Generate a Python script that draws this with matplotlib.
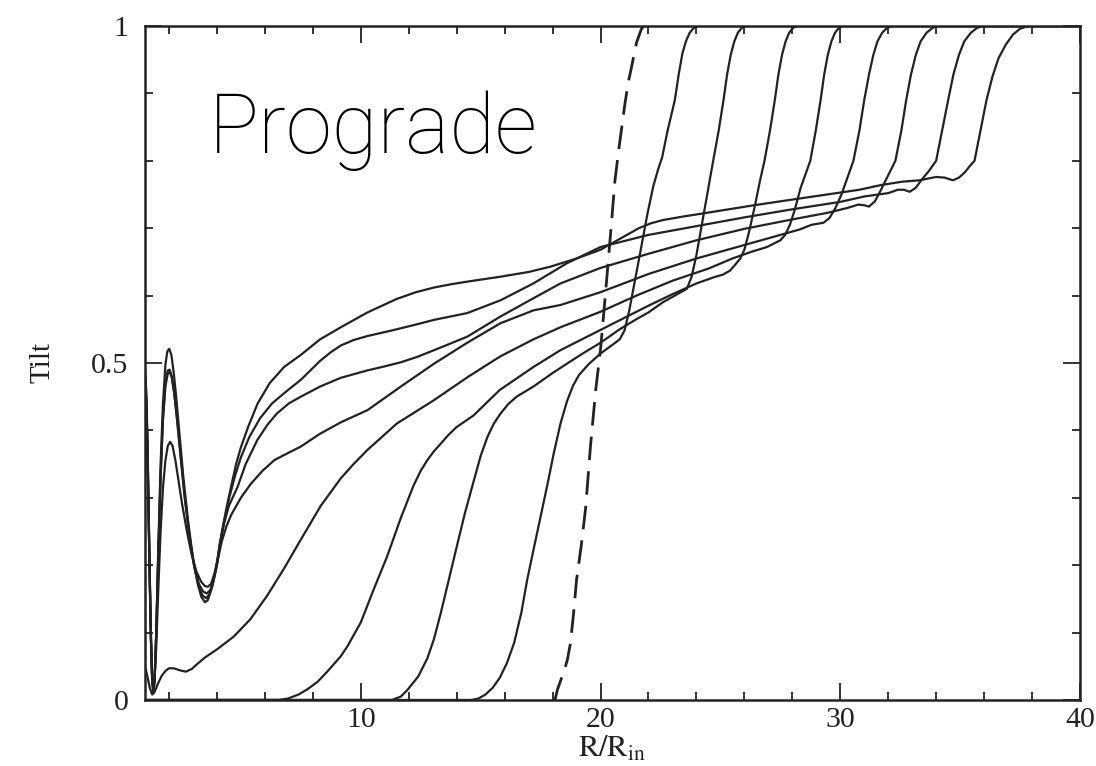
import matplotlib
matplotlib.use("Agg")
import matplotlib.pyplot as plt
from matplotlib.ticker import MultipleLocator, FixedLocator

plt.rcParams['font.family'] = ['Liberation Serif', 'DejaVu Serif']
plt.rcParams['mathtext.fontset'] = 'stix'

# Tilt profiles, earliest (f1) to latest (f8)
f1_x = [1, 14.6, 14.9, 15.2, 15.5, 15.8, 16.1, 16.4, 16.7, 16.94, 17.2, 17.5, 17.8, 18.05, 18.33, 18.6, 18.85,
        19.1, 19.5, 20.0, 20.5, 20.8, 21.0, 21.2, 21.45, 21.7, 21.95, 22.2, 22.4, 22.57, 22.8, 23.1, 23.27, 23.42,
        23.57, 23.72, 23.89, 24.07, 40]
f1_y = [0, 0, 0.002, 0.008, 0.018, 0.033, 0.055, 0.085, 0.13, 0.178, 0.222, 0.272, 0.322, 0.366, 0.41, 0.443,
        0.466, 0.482, 0.498, 0.514, 0.527, 0.535, 0.548, 0.578, 0.625, 0.672, 0.72, 0.762, 0.787, 0.805, 0.845,
        0.89, 0.93, 0.96, 0.978, 0.99, 0.997, 1.0, 1.0]

f2_x = [1, 11.3, 11.67, 11.95, 12.4, 12.78, 13.05, 13.33, 13.65, 14.0, 14.35, 14.72, 15.0, 15.28, 15.55, 15.83,
        16.15, 16.5, 17.2, 18.0, 18.6, 19.3, 20.0, 20.8, 21.5, 22.0, 22.6, 23.0, 23.3, 23.6, 23.8, 24.0, 24.2,
        24.45, 24.7, 24.93, 25.13, 25.28, 25.43, 25.58, 25.73, 25.89, 26.05, 40]
f2_y = [0, 0, 0.005, 0.015, 0.035, 0.062, 0.09, 0.128, 0.175, 0.227, 0.278, 0.326, 0.362, 0.39, 0.41, 0.425,
        0.439, 0.45, 0.465, 0.485, 0.499, 0.515, 0.53, 0.55, 0.565, 0.575, 0.59, 0.598, 0.604, 0.61, 0.628, 0.66,
        0.70, 0.75, 0.80, 0.845, 0.89, 0.928, 0.957, 0.977, 0.99, 0.997, 1.0, 1.0]

f3_x = [1, 6.6, 6.95, 7.4, 7.78, 8.2, 8.6, 9.17, 9.45, 10.0, 10.55, 11.1, 11.67, 12.2, 12.5, 12.78, 13.05, 13.33,
        13.65, 14.0, 14.7, 15.8, 17.2, 18.33, 20.0, 21.0, 22.0, 23.0, 24.0, 24.8, 25.1, 25.4, 25.6, 25.83, 26.0,
        26.2, 26.45, 26.65, 26.84, 27.07, 27.27, 27.42, 27.57, 27.72, 27.87, 28.03, 28.19, 40]
f3_y = [0, 0, 0.002, 0.008, 0.016, 0.027, 0.042, 0.065, 0.08, 0.115, 0.165, 0.213, 0.27, 0.318, 0.34, 0.356,
        0.369, 0.38, 0.393, 0.405, 0.422, 0.46, 0.494, 0.519, 0.549, 0.567, 0.585, 0.602, 0.618, 0.628, 0.631,
        0.637, 0.645, 0.655, 0.668, 0.695, 0.735, 0.77, 0.80, 0.845, 0.89, 0.928, 0.957, 0.977, 0.99, 0.997,
        1.0, 1.0]

f4_x = [1.0, 1.1, 1.2, 1.3, 1.4, 1.55, 1.7, 1.85, 2.0, 2.2, 2.45, 2.7, 2.95, 3.2, 3.5, 4.0, 4.7, 5.4, 6.1, 6.8,
        7.5, 8.33, 9.17, 9.7, 10.28, 11.5, 13.06, 14.5, 15.83, 17.2, 18.33, 20.0, 21.5, 23.0, 24.5, 25.5, 26.3,
        26.94, 27.5, 27.7, 27.9, 28.1, 28.35, 28.55, 28.75, 28.98, 29.18, 29.33, 29.48, 29.63, 29.78, 29.94,
        30.1, 40]
f4_y = [0.05, 0.035, 0.018, 0.008, 0.012, 0.025, 0.036, 0.043, 0.047, 0.047, 0.044, 0.042, 0.046, 0.054, 0.063,
        0.075, 0.094, 0.12, 0.155, 0.195, 0.238, 0.288, 0.329, 0.35, 0.371, 0.41, 0.445, 0.48, 0.51, 0.535,
        0.553, 0.576, 0.6, 0.622, 0.64, 0.655, 0.665, 0.672, 0.682, 0.69, 0.705, 0.727, 0.76, 0.78, 0.80, 0.845,
        0.89, 0.928, 0.957, 0.977, 0.99, 0.997, 1.0, 1.0]

f5_x = [1.0, 1.05, 1.1, 1.15, 1.2, 1.25, 1.3, 1.35, 1.4, 1.47, 1.55, 1.65, 1.75, 1.85, 1.95, 2.05, 2.15, 2.27,
        2.4, 2.55, 2.75, 2.95, 3.15, 3.35, 3.5, 3.62, 3.75, 3.9, 4.05, 4.2, 4.4, 4.6, 5.0, 5.4, 5.9, 6.4, 7.0,
        7.5, 8.3, 9.17, 10.28, 11.67, 13.06, 14.44, 15.83, 17.2, 18.33, 20.0, 22.0, 24.0, 26.0, 27.5, 28.3, 28.8,
        29.3, 29.55, 29.8, 30.05, 30.3, 30.55, 30.8, 31.0, 31.2, 31.38, 31.55, 31.75, 31.95, 32.15, 40]
f5_y = [0.47, 0.44, 0.37, 0.27, 0.17, 0.085, 0.03, 0.015, 0.03, 0.08, 0.16, 0.25, 0.315, 0.355, 0.377, 0.383,
        0.377, 0.355, 0.325, 0.29, 0.25, 0.215, 0.19, 0.175, 0.169, 0.168, 0.172, 0.188, 0.21, 0.235, 0.258,
        0.275, 0.30, 0.32, 0.34, 0.356, 0.367, 0.376, 0.395, 0.412, 0.43, 0.465, 0.499, 0.53, 0.559, 0.578,
        0.586, 0.605, 0.632, 0.655, 0.675, 0.69, 0.698, 0.705, 0.708, 0.715, 0.73, 0.75, 0.775, 0.80, 0.845,
        0.89, 0.928, 0.957, 0.977, 0.99, 0.997, 1.0, 1.0]

f6_x = [1.0, 1.05, 1.1, 1.15, 1.2, 1.25, 1.3, 1.35, 1.4, 1.47, 1.55, 1.65, 1.75, 1.85, 1.95, 2.03, 2.12, 2.22,
        2.35, 2.5, 2.65, 2.85, 3.05, 3.25, 3.42, 3.58, 3.72, 3.86, 4.0, 4.12, 4.3, 4.5, 4.86, 5.2, 5.69, 6.1, 6.5,
        7.0, 7.5, 8.3, 9.17, 10.28, 11.0, 11.67, 12.35, 13.06, 14.44, 15.83, 17.2, 18.33, 20.0, 22.0, 24.0, 26.0,
        28.0, 29.5, 30.3, 30.75, 31.0, 31.2, 31.45, 31.7, 31.95, 32.3, 32.55, 32.75, 32.95, 33.15, 33.35, 33.6,
        33.85, 34.05, 40]
f6_y = [0.48, 0.45, 0.38, 0.28, 0.18, 0.09, 0.03, 0.013, 0.03, 0.1, 0.21, 0.33, 0.415, 0.465, 0.484, 0.487, 0.478,
        0.455, 0.41, 0.355, 0.302, 0.243, 0.2, 0.172, 0.161, 0.158, 0.163, 0.178, 0.2, 0.232, 0.262, 0.288, 0.316,
        0.35, 0.386, 0.408, 0.425, 0.44, 0.45, 0.465, 0.478, 0.489, 0.495, 0.501, 0.509, 0.519, 0.539, 0.569,
        0.596, 0.618, 0.641, 0.662, 0.682, 0.699, 0.713, 0.723, 0.73, 0.735, 0.734, 0.732, 0.74, 0.757, 0.775,
        0.80, 0.845, 0.89, 0.928, 0.957, 0.977, 0.99, 0.997, 1.0, 1.0]

f7_x = [1.0, 1.05, 1.1, 1.15, 1.2, 1.25, 1.3, 1.35, 1.4, 1.47, 1.55, 1.65, 1.75, 1.85, 1.95, 2.03, 2.12, 2.22,
        2.35, 2.5, 2.65, 2.85, 3.05, 3.25, 3.4, 3.55, 3.68, 3.82, 3.97, 4.12, 4.3, 4.5, 4.75, 5.0, 5.35, 5.8, 6.3,
        6.9, 7.5, 8.3, 8.75, 9.17, 9.7, 10.28, 10.9, 11.5, 12.3, 13.06, 14.44, 15.83, 17.2, 18.6, 20.0, 21.0, 22.0,
        24.0, 26.0, 28.0, 30.0, 31.0, 32.0, 32.4, 32.65, 32.9, 33.15, 33.4, 33.7, 34.0, 34.25, 34.5, 34.72, 34.95,
        35.17, 35.45, 35.7, 35.95, 40]
f7_y = [0.48, 0.45, 0.38, 0.28, 0.18, 0.09, 0.03, 0.012, 0.03, 0.1, 0.21, 0.33, 0.42, 0.47, 0.489, 0.49, 0.48,
        0.455, 0.415, 0.36, 0.305, 0.245, 0.198, 0.167, 0.155, 0.151, 0.156, 0.17, 0.195, 0.228, 0.265, 0.298,
        0.332, 0.36, 0.39, 0.418, 0.44, 0.458, 0.475, 0.503, 0.516, 0.526, 0.534, 0.54, 0.545, 0.55, 0.557,
        0.564, 0.574, 0.593, 0.618, 0.648, 0.672, 0.681, 0.69, 0.703, 0.716, 0.728, 0.739, 0.747, 0.752, 0.757,
        0.757, 0.754, 0.76, 0.772, 0.785, 0.80, 0.845, 0.89, 0.928, 0.957, 0.977, 0.99, 0.997, 1.0, 1.0]

f8_x = [1.0, 1.05, 1.1, 1.15, 1.2, 1.25, 1.3, 1.35, 1.4, 1.47, 1.55, 1.65, 1.75, 1.85, 1.93, 2.01, 2.1, 2.2, 2.3,
        2.45, 2.6, 2.8, 3.0, 3.2, 3.35, 3.5, 3.62, 3.75, 3.9, 4.05, 4.2, 4.4, 4.6, 4.8, 5.0, 5.3, 5.7, 6.2, 6.8,
        7.5, 8.3, 9.17, 10.28, 11.5, 12.3, 13.06, 13.8, 14.5, 15.83, 17.0, 17.92, 19.0, 20.0, 21.1, 21.6, 22.08,
        22.6, 23.4, 24.3, 26.4, 28.3, 30.8, 31.7, 32.6, 33.3, 34.0, 34.35, 34.7, 34.95, 35.2, 35.4, 35.6, 35.85,
        36.1, 36.35, 36.6, 36.9, 37.2, 37.5, 37.85, 40]
f8_y = [0.49, 0.46, 0.39, 0.29, 0.18, 0.09, 0.03, 0.01, 0.03, 0.1, 0.22, 0.35, 0.44, 0.497, 0.517, 0.521, 0.512,
        0.485, 0.45, 0.39, 0.33, 0.265, 0.21, 0.172, 0.153, 0.145, 0.148, 0.162, 0.185, 0.215, 0.248, 0.285,
        0.318, 0.35, 0.375, 0.405, 0.44, 0.47, 0.494, 0.512, 0.535, 0.553, 0.575, 0.595, 0.605, 0.612, 0.617,
        0.621, 0.628, 0.635, 0.643, 0.655, 0.668, 0.69, 0.7, 0.707, 0.712, 0.717, 0.722, 0.734, 0.744, 0.757,
        0.764, 0.769, 0.771, 0.776, 0.775, 0.771, 0.775, 0.783, 0.792, 0.80, 0.845, 0.89, 0.925, 0.952, 0.972,
        0.987, 0.996, 1.0, 1.0]

# dashed reference profile
dash_x = [18.1, 18.2, 18.35, 18.5, 18.62, 18.75, 18.88, 19.0, 19.2, 19.38, 19.58, 19.8, 20.0, 20.2, 20.42, 20.6,
          20.76, 21.0, 21.15, 21.3, 21.5, 21.7, 21.8]
dash_y = [0.0, 0.015, 0.03, 0.045, 0.06, 0.085, 0.13, 0.178, 0.23, 0.285, 0.376, 0.46, 0.52, 0.6, 0.692, 0.77,
          0.816, 0.88, 0.915, 0.94, 0.975, 0.995, 1.0]

fig = plt.figure(figsize=(10.96, 7.66), dpi=100)
ax = fig.add_axes([0.1323, 0.0862, 0.8531, 0.8799])

col = '#222222'
for xs, ys in [(f1_x, f1_y), (f2_x, f2_y), (f3_x, f3_y), (f4_x, f4_y),
               (f5_x, f5_y), (f6_x, f6_y), (f7_x, f7_y), (f8_x, f8_y)]:
    ax.plot(xs, ys, color=col, lw=1.6, solid_joinstyle='round')
ax.plot(dash_x, dash_y, color=col, lw=2.0, ls=(0, (8.5, 4)))

ax.set_xlim(1, 40)
ax.set_ylim(0, 1)
ax.xaxis.set_major_locator(FixedLocator([10, 20, 30, 40]))
ax.xaxis.set_minor_locator(MultipleLocator(2))
ax.yaxis.set_major_locator(FixedLocator([0, 0.5, 1]))
ax.yaxis.set_minor_locator(MultipleLocator(0.1))
ax.set_yticklabels(['0', '0.5', '1'])
ax.tick_params(which='both', direction='in', top=True, right=True, width=1.3, color=col,
               labelsize=21.5, labelcolor='#222222')
ax.tick_params(which='major', length=12)
ax.tick_params(which='minor', length=6)
ax.tick_params(axis='x', pad=5)
ax.tick_params(axis='y', pad=12)
for s in ax.spines.values():
    s.set_linewidth(1.8)
    s.set_color(col)

ax.set_xlabel(r'$\mathrm{R/R_{in}}$', fontsize=22, color=col)
ax.xaxis.set_label_coords(0.5, -0.052)
ax.set_ylabel('Tilt', fontsize=21, color=col)
ax.yaxis.set_label_coords(-0.096, 0.5)

ax.text(3.67, 0.812, 'Prograde', fontsize=60, family=['Roboto', 'DejaVu Sans'], fontweight='light',
        color='black', va='baseline')

fig.savefig('out.png', dpi=100)
